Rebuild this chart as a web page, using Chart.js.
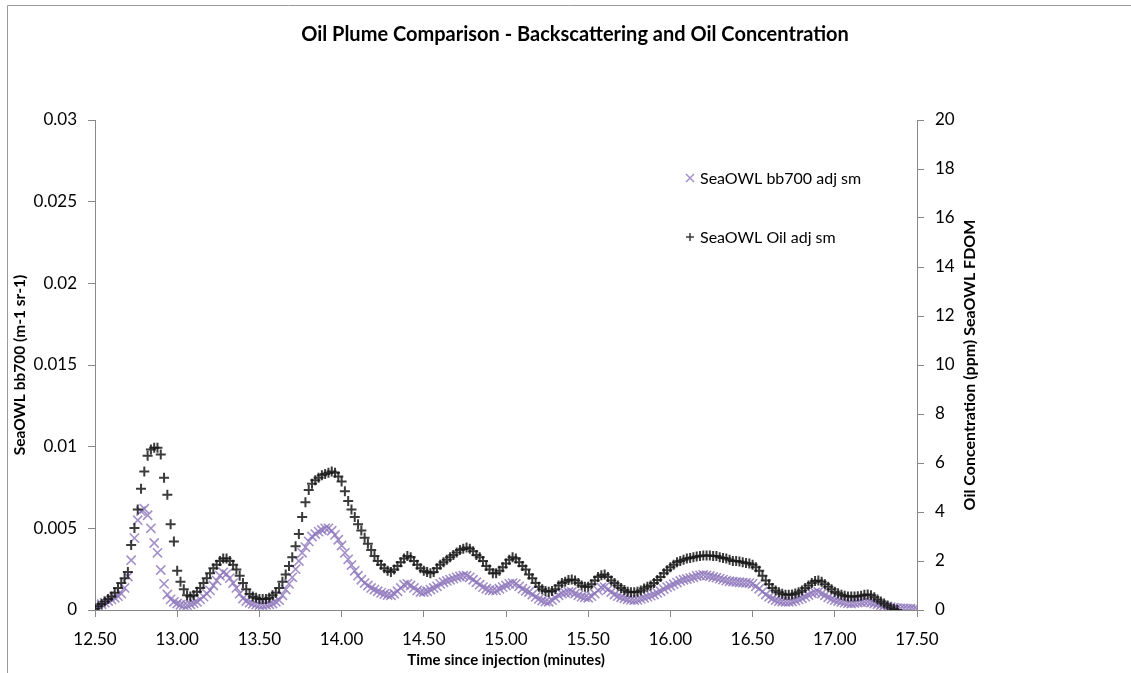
<!DOCTYPE html>
<html>
<head>
<meta charset="utf-8">
<title>Oil Plume Comparison</title>
<script src="https://cdn.jsdelivr.net/npm/chart.js@4.4.1/dist/chart.umd.min.js"></script>
<style>
  html, body { margin: 0; padding: 0; background: #fff; }
  #wrap { position: relative; width: 1131px; height: 673px; }
</style>
</head>
<body>
<div id="wrap"><canvas id="chart"></canvas></div>
<script>
// Samples every 0.02 min starting at 12.50.
const T_START = 12.5;
const T_STEP = 0.02;

const xTicks = [12.5, 13, 13.5, 14, 14.5, 15, 15.5, 16, 16.5, 17, 17.5];

// SeaOWL bb700 adj sm (left axis, m-1 sr-1), 12.50 .. 17.50
const bb700 = [
  0.00015, 0.00025, 0.00035, 0.00045, 0.00055, 0.00065, 0.00075, 0.00085, 0.00100, 0.00135,
  0.00205, 0.00305, 0.00440, 0.00550, 0.00605, 0.00620, 0.00580, 0.00500, 0.00410, 0.00350,
  0.00245, 0.00160, 0.00095, 0.00065, 0.00050,
  0.00040, 0.00032, 0.00030, 0.00030, 0.00035, 0.00042, 0.00050, 0.00065, 0.00082, 0.00100,
  0.00120, 0.00150, 0.00180, 0.00210, 0.00230, 0.00220, 0.00195, 0.00165, 0.00135, 0.00100,
  0.00070, 0.00055, 0.00045, 0.00038, 0.00033,
  0.00030, 0.00030, 0.00032, 0.00035, 0.00040, 0.00050, 0.00060, 0.00090, 0.00125, 0.00160,
  0.00200, 0.00250, 0.00300, 0.00350, 0.00385, 0.00420, 0.00450, 0.00465, 0.00480, 0.00490,
  0.00500, 0.00500, 0.00485, 0.00460, 0.00430,
  0.00395, 0.00350, 0.00310, 0.00275, 0.00240, 0.00210, 0.00185, 0.00165, 0.00150, 0.00135,
  0.00125, 0.00115, 0.00105, 0.00098, 0.00092, 0.00090, 0.00100, 0.00115, 0.00135, 0.00155,
  0.00160, 0.00150, 0.00135, 0.00120, 0.00110,
  0.00110, 0.00115, 0.00125, 0.00135, 0.00145, 0.00160, 0.00170, 0.00178, 0.00185, 0.00192,
  0.00200, 0.00205, 0.00210, 0.00210, 0.00200, 0.00185, 0.00170, 0.00155, 0.00140, 0.00130,
  0.00122, 0.00120, 0.00120, 0.00130, 0.00140,
  0.00150, 0.00160, 0.00165, 0.00160, 0.00145, 0.00130, 0.00118, 0.00110, 0.00095, 0.00080,
  0.00068, 0.00058, 0.00052, 0.00050, 0.00060, 0.00075, 0.00090, 0.00100, 0.00105, 0.00110,
  0.00110, 0.00100, 0.00090, 0.00082, 0.00078,
  0.00075, 0.00085, 0.00100, 0.00120, 0.00138, 0.00140, 0.00125, 0.00110, 0.00095, 0.00085,
  0.00078, 0.00072, 0.00066, 0.00062, 0.00060, 0.00062, 0.00068, 0.00075, 0.00082, 0.00088,
  0.00095, 0.00105, 0.00115, 0.00128, 0.00140,
  0.00148, 0.00158, 0.00168, 0.00178, 0.00185, 0.00190, 0.00195, 0.00200, 0.00208, 0.00212,
  0.00215, 0.00212, 0.00208, 0.00202, 0.00198, 0.00192, 0.00186, 0.00180, 0.00176, 0.00174,
  0.00172, 0.00170, 0.00168, 0.00166, 0.00165,
  0.00160, 0.00145, 0.00130, 0.00112, 0.00095, 0.00080, 0.00070, 0.00060, 0.00055, 0.00052,
  0.00050, 0.00050, 0.00052, 0.00058, 0.00065, 0.00072, 0.00082, 0.00092, 0.00102, 0.00108,
  0.00110, 0.00100, 0.00090, 0.00078, 0.00068,
  0.00060, 0.00055, 0.00050, 0.00045, 0.00042, 0.00040, 0.00042, 0.00045, 0.00048, 0.00050,
  0.00050, 0.00045, 0.00040, 0.00035, 0.00030, 0.00026, 0.00022, 0.00018, 0.00014, 0.00012,
  0.00010, 0.00010, 0.00008, 0.00008, 0.00006,
  0.00005
];

// SeaOWL Oil adj sm (right axis, ppm), 12.50 .. 17.38
const oilPpm = [
  0.05, 0.15, 0.25, 0.35, 0.45, 0.55, 0.70, 0.90, 1.10, 1.30,
  1.55, 2.65, 3.35, 4.10, 4.95, 5.65, 6.30, 6.55, 6.62, 6.62,
  6.35, 5.40, 4.70, 3.50, 2.80,
  1.60, 1.15, 0.85, 0.60, 0.55, 0.60, 0.75, 0.90, 1.10, 1.30,
  1.50, 1.70, 1.85, 2.00, 2.10, 2.10, 2.00, 1.85, 1.65, 1.40,
  1.10, 0.85, 0.65, 0.55, 0.50,
  0.45, 0.45, 0.45, 0.50, 0.60, 0.70, 0.90, 1.15, 1.45, 1.80,
  2.15, 2.60, 3.10, 3.80, 4.40, 4.90, 5.15, 5.30, 5.40, 5.50,
  5.55, 5.60, 5.65, 5.60, 5.45,
  5.25, 4.85, 4.45, 4.10, 3.80, 3.50, 3.25, 2.95, 2.70, 2.45,
  2.20, 2.00, 1.85, 1.70, 1.60, 1.55, 1.65, 1.80, 1.95, 2.10,
  2.20, 2.15, 2.00, 1.85, 1.70,
  1.60, 1.55, 1.50, 1.55, 1.70, 1.85, 1.95, 2.05, 2.15, 2.25,
  2.35, 2.45, 2.50, 2.55, 2.50, 2.40, 2.25, 2.15, 2.00, 1.80,
  1.65, 1.50, 1.50, 1.60, 1.75,
  1.90, 2.05, 2.15, 2.10, 1.95, 1.80, 1.65, 1.45, 1.30, 1.10,
  0.95, 0.85, 0.78, 0.75, 0.78, 0.85, 1.00, 1.10, 1.15, 1.22,
  1.25, 1.20, 1.10, 1.00, 0.95,
  0.95, 1.05, 1.20, 1.35, 1.42, 1.45, 1.35, 1.20, 1.10, 1.00,
  0.90, 0.82, 0.75, 0.72, 0.72, 0.75, 0.80, 0.88, 0.95, 1.00,
  1.10, 1.22, 1.35, 1.50, 1.62,
  1.75, 1.85, 1.95, 2.00, 2.05, 2.10, 2.12, 2.15, 2.18, 2.20,
  2.22, 2.22, 2.22, 2.20, 2.20, 2.15, 2.12, 2.10, 2.05, 2.00,
  2.00, 1.98, 1.95, 1.92, 1.90,
  1.85, 1.75, 1.60, 1.40, 1.20, 1.05, 0.90, 0.80, 0.72, 0.66,
  0.62, 0.62, 0.63, 0.67, 0.72, 0.80, 0.90, 1.00, 1.10, 1.18,
  1.20, 1.15, 1.05, 0.95, 0.85,
  0.75, 0.68, 0.62, 0.58, 0.55, 0.55, 0.55, 0.56, 0.58, 0.62,
  0.63, 0.60, 0.52, 0.43, 0.35, 0.27, 0.18, 0.10, 0.04, 0.00
];

const TITLE = "Oil Plume Comparison - Backscattering and Oil Concentration";
const PURPLE = "rgba(140,116,186,0.8)";
const BLACK = "rgba(25,25,25,0.85)";
const AXIS = "#888888";
const FONT = "Lato, 'Open Sans', sans-serif";

function toPoints(values) {
  return values.map((v, i) => ({ x: +(T_START + i * T_STEP).toFixed(2), y: v }));
}

// Extra bits the Excel chart has: outer frame, title a bit right of centre,
// right axis title reading bottom-to-top, and the legend inside the plot.
const extras = {
  id: "extras",
  beforeDraw(chart) {
    const ctx = chart.ctx;
    ctx.save();
    ctx.fillStyle = "#fff";
    ctx.fillRect(0, 0, chart.width, chart.height);
    ctx.strokeStyle = "#9a9a9a";
    ctx.lineWidth = 1;
    ctx.beginPath();
    ctx.moveTo(7.5, chart.height);
    ctx.lineTo(7.5, 5.5);
    ctx.lineTo(chart.width, 5.5);
    ctx.stroke();
    ctx.restore();
  },
  afterDraw(chart) {
    const ctx = chart.ctx;
    const area = chart.chartArea;
    ctx.save();
    ctx.fillStyle = "#000";
    ctx.font = "bold 20px " + FONT;
    ctx.textAlign = "center";
    ctx.textBaseline = "middle";
    ctx.fillText(TITLE, 575, 35);

    ctx.font = "bold 16px " + FONT;
    ctx.translate(970, (area.top + area.bottom) / 2);
    ctx.rotate(-Math.PI / 2);
    ctx.fillText("Oil Concentration (ppm) SeaOWL FDOM", 0, 0);
    ctx.restore();

    const items = [
      { ds: chart.data.datasets[1], y: 178 },
      { ds: chart.data.datasets[0], y: 237 },
    ];
    ctx.save();
    ctx.font = "16px " + FONT;
    ctx.textBaseline = "middle";
    ctx.textAlign = "left";
    for (const it of items) {
      const r = 4;
      ctx.strokeStyle = it.ds.borderColor;
      ctx.lineWidth = 1.5;
      ctx.beginPath();
      if (it.ds.pointStyle === "crossRot") {
        ctx.moveTo(690 - r, it.y - r); ctx.lineTo(690 + r, it.y + r);
        ctx.moveTo(690 - r, it.y + r); ctx.lineTo(690 + r, it.y - r);
      } else {
        ctx.moveTo(690 - r, it.y); ctx.lineTo(690 + r, it.y);
        ctx.moveTo(690, it.y - r); ctx.lineTo(690, it.y + r);
      }
      ctx.stroke();
      ctx.fillStyle = "#000";
      ctx.fillText(it.ds.label, 700, it.y + 1);
    }
    ctx.restore();
  },
};

new Chart(document.getElementById("chart"), {
  type: "scatter",
  data: {
    datasets: [
      {
        label: "SeaOWL Oil adj sm",
        data: toPoints(oilPpm),
        yAxisID: "y1",
        pointStyle: "cross",
        pointRadius: 5,
        borderWidth: 2,
        borderColor: BLACK,
        backgroundColor: BLACK,
        showLine: false,
      },
      {
        label: "SeaOWL bb700 adj sm",
        data: toPoints(bb700),
        yAxisID: "y",
        pointStyle: "crossRot",
        pointRadius: 6.5,
        borderWidth: 1.6,
        borderColor: PURPLE,
        backgroundColor: PURPLE,
        showLine: false,
      },
    ],
  },
  options: {
    responsive: true,
    maintainAspectRatio: false,
    animation: false,
    layout: { padding: { top: 120, left: 0, right: 0, bottom: 0 } },
    plugins: {
      legend: { display: false },
      tooltip: { enabled: false },
      title: { display: false },
    },
    scales: {
      x: {
        type: "linear",
        min: 12.5,
        max: 17.5,
        afterBuildTicks(s) { s.ticks = xTicks.map(v => ({ value: v })); },
        afterFit(s) { s.height = 63; },
        ticks: {
          color: "#000",
          font: { family: FONT, size: 17 },
          padding: 12,
          maxRotation: 0,
          callback: v => v.toFixed(2),
        },
        grid: { drawOnChartArea: false, drawTicks: true, tickLength: 7, color: AXIS },
        border: { color: AXIS, width: 1 },
        title: {
          display: true,
          text: "Time since injection (minutes)",
          color: "#000",
          font: { family: FONT, size: 15, weight: "bold", lineHeight: 1 },
          padding: { top: 4, bottom: 5 },
        },
      },
      y: {
        position: "left",
        min: 0,
        max: 0.03,
        afterFit(s) { s.width = 95; },
        ticks: {
          stepSize: 0.005,
          color: "#000",
          font: { family: FONT, size: 17 },
          padding: 11,
          callback: v => String(+v.toFixed(3)),
        },
        grid: { drawOnChartArea: false, drawTicks: true, tickLength: 7, color: AXIS },
        border: { color: AXIS, width: 1 },
        title: {
          display: true,
          text: "SeaOWL bb700 (m-1 sr-1)",
          color: "#000",
          font: { family: FONT, size: 15.5, weight: "bold", lineHeight: 1.2 },
          padding: { top: 11, bottom: 0 },
        },
      },
      y1: {
        position: "right",
        min: 0,
        max: 20,
        afterFit(s) { s.width = 214; },
        ticks: {
          stepSize: 2,
          color: "#000",
          font: { family: FONT, size: 17 },
          padding: 11,
        },
        grid: { drawOnChartArea: false, drawTicks: true, tickLength: 7, color: AXIS },
        border: { color: AXIS, width: 1 },
      },
    },
  },
  plugins: [extras],
});
</script>
</body>
</html>
